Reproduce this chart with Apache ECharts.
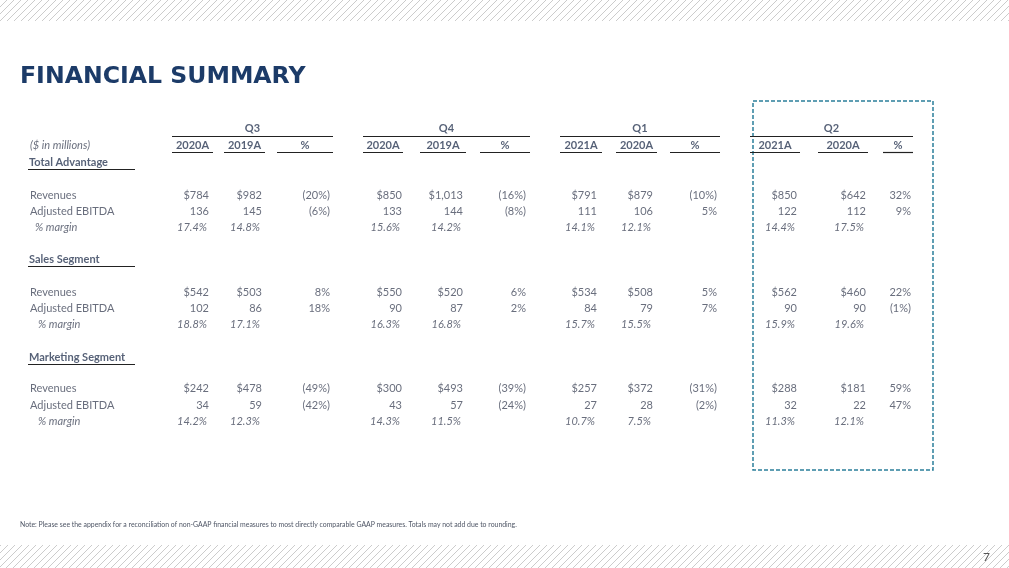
<!DOCTYPE html>
<html lang="en">
<head>
	<meta charset="UTF-8">
	<title>Financial Summary</title>
	<style>
		html, body { margin: 0; padding: 0; background: #fff; }
		#box { width: 1009px; height: 568px; }
	</style>
</head>
<body>
	<div id="box"></div>
	<script src="https://cdn.jsdelivr.net/npm/echarts@6/dist/echarts.min.js"></script>
	<script>
		// table content
		var quarters = ['Q3', 'Q4', 'Q1', 'Q2'];
		var colHeads = [['2020A', '2019A', '%'], ['2020A', '2019A', '%'], ['2021A', '2020A', '%'], ['2021A', '2020A', '%']];
		var sections = ['Total Advantage', 'Sales Segment', 'Marketing Segment'];
		var rowNames = ['Revenues', 'Adjusted EBITDA', '% margin'];

		var totalRevCur = [784, 850, 791, 850];
		var totalRevPrior = [982, 1013, 879, 642];
		var totalRevPct = [-20, -16, -10, 32];
		var totalEbitdaCur = [136, 133, 111, 122];
		var totalEbitdaPrior = [145, 144, 106, 112];
		var totalEbitdaPct = [-6, -8, 5, 9];
		var totalMarginCur = [17.4, 15.6, 14.1, 14.4];
		var totalMarginPrior = [14.8, 14.2, 12.1, 17.5];

		var salesRevCur = [542, 550, 534, 562];
		var salesRevPrior = [503, 520, 508, 460];
		var salesRevPct = [8, 6, 5, 22];
		var salesEbitdaCur = [102, 90, 84, 90];
		var salesEbitdaPrior = [86, 87, 79, 90];
		var salesEbitdaPct = [18, 2, 7, -1];
		var salesMarginCur = [18.8, 16.3, 15.7, 15.9];
		var salesMarginPrior = [17.1, 16.8, 15.5, 19.6];

		var mktRevCur = [242, 300, 257, 288];
		var mktRevPrior = [478, 493, 372, 181];
		var mktRevPct = [-49, -39, -31, 59];
		var mktEbitdaCur = [34, 43, 27, 32];
		var mktEbitdaPrior = [59, 57, 28, 22];
		var mktEbitdaPct = [-42, -24, -2, 47];
		var mktMarginCur = [14.2, 14.3, 10.7, 11.3];
		var mktMarginPrior = [12.3, 11.5, 7.5, 12.1];

		// layout (pixel units on hidden axes)
		var colRight = [[209, 262, 330], [402, 463, 526], [597, 653, 717], [797, 866, 911]];
		var colSpan = [[[172, 213], [224, 265], [277, 333]], [[363, 403], [420, 466], [480, 530]],
			[[560, 602], [616, 657], [670, 720]], [[750, 800], [818, 868], [883, 913]]];
		var sectionY = [162, 259, 357];
		var rowY = [[195, 211, 227], [292, 308, 324], [388, 405, 421]];

		var FONT = 'Lato';
		var TXT = '#434a5c';
		var HEAD = '#2c3a55';

		function money(v) {
			return '$' + v.toLocaleString('en-US');
		}
		function pct(v) {
			return v < 0 ? '(' + (-v) + '%)' : v + '%';
		}

		var blocks = [
			[totalRevCur, totalRevPrior, totalRevPct, totalEbitdaCur, totalEbitdaPrior, totalEbitdaPct, totalMarginCur, totalMarginPrior],
			[salesRevCur, salesRevPrior, salesRevPct, salesEbitdaCur, salesEbitdaPrior, salesEbitdaPct, salesMarginCur, salesMarginPrior],
			[mktRevCur, mktRevPrior, mktRevPct, mktEbitdaCur, mktEbitdaPrior, mktEbitdaPct, mktMarginCur, mktMarginPrior]
		];

		var cells = [];
		function cell(x, y, text, pos, style) {
			var lab = {
				show: true, formatter: text, position: pos, distance: 0,
				fontFamily: FONT, fontSize: 11, color: TXT
			};
			for (var k in style) lab[k] = style[k];
			cells.push({ value: [x, y], label: lab });
		}

		// headers
		quarters.forEach(function (q, i) {
			var s = colSpan[i];
			cell((s[0][0] + s[2][1]) / 2, 128, q, 'inside', { fontWeight: 'bold', color: HEAD });
			colHeads[i].forEach(function (h, j) {
				cell((s[j][0] + s[j][1]) / 2, 145, h, 'inside', { fontWeight: 'bold', color: HEAD });
			});
		});
		cell(30, 145, '($ in millions)', 'right', { fontStyle: 'italic' });

		// body
		sections.forEach(function (name, b) {
			cell(29, sectionY[b], name, 'right', { fontWeight: 'bold', color: HEAD });
			rowNames.forEach(function (r, k) {
				cell(k === 2 ? (b === 0 ? 35 : 38) : 30, rowY[b][k], r, 'right', k === 2 ? { fontStyle: 'italic' } : {});
			});
			var d = blocks[b];
			for (var q = 0; q < 4; q++) {
				var cr = colRight[q];
				cell(cr[0], rowY[b][0], money(d[0][q]), 'left');
				cell(cr[1], rowY[b][0], money(d[1][q]), 'left');
				cell(cr[2], rowY[b][0], pct(d[2][q]), 'left');
				cell(cr[0], rowY[b][1], String(d[3][q]), 'left');
				cell(cr[1], rowY[b][1], String(d[4][q]), 'left');
				cell(cr[2], rowY[b][1], pct(d[5][q]), 'left');
				cell(cr[0] - 2, rowY[b][2], d[6][q].toFixed(1) + '%', 'left', { fontStyle: 'italic' });
				cell(cr[1] - 2, rowY[b][2], d[7][q].toFixed(1) + '%', 'left', { fontStyle: 'italic' });
			}
		});

		// rule lines
		var rules = [];
		colSpan.forEach(function (s) {
			rules.push({ coords: [[s[0][0], 136], [s[2][1], 136]] });
			s.forEach(function (p) {
				rules.push({ coords: [[p[0], 152], [p[1], 152]] });
			});
		});
		sectionY.forEach(function (y) {
			rules.push({ coords: [[28, y + 7], [135, y + 7]] });
		});

		function hatch() {
			var c = document.createElement('canvas');
			c.width = 7; c.height = 7;
			var g = c.getContext('2d');
			g.strokeStyle = '#cccccc';
			g.lineWidth = 1;
			g.beginPath();
			g.moveTo(-1, 8); g.lineTo(8, -1);
			g.moveTo(-1, 1); g.lineTo(1, -1);
			g.moveTo(6, 8); g.lineTo(8, 6);
			g.stroke();
			return c;
		}
		var pat = { image: hatch(), repeat: 'repeat' };

		var myChart = echarts.init(document.getElementById('box'));

		var option = {
			animation: false,
			grid: { left: 0, right: 0, top: 0, bottom: 0 },
			xAxis: { type: 'value', min: 0, max: 1009, show: false },
			yAxis: { type: 'value', min: 0, max: 568, inverse: true, show: false },
			graphic: [
				{ type: 'rect', shape: { x: 0, y: 0, width: 1009, height: 21 }, style: { fill: pat }, silent: true },
				{ type: 'rect', shape: { x: 0, y: 545, width: 1009, height: 23 }, style: { fill: pat }, silent: true },
				{ type: 'text', left: 20, top: 65, style: {
					text: 'FINANCIAL SUMMARY', fill: '#1c3b68',
					font: 'bold 23.6px "DejaVu Sans"'
				} },
				{ type: 'rect', shape: { x: 753, y: 101, width: 180, height: 369 },
					style: { fill: null, stroke: '#2b7f9b', lineWidth: 1.5, lineDash: [4, 2] }, silent: true },
				{ type: 'text', left: 20, top: 521, style: {
					text: 'Note: Please see the appendix for a reconciliation of non-GAAP financial measures to most directly comparable GAAP measures. Totals may not add due to rounding.',
					fill: '#4f5666', font: '6.9px Lato'
				} },
				{ type: 'text', left: 983, top: 551, style: { text: '7', fill: '#555', font: '12px Lato' } }
			],
			series: [
				{
					type: 'lines',
					coordinateSystem: 'cartesian2d',
					silent: true,
					lineStyle: { color: '#222', width: 1.2, opacity: 1 },
					data: rules
				},
				{
					type: 'scatter',
					symbolSize: 0,
					silent: true,
					data: cells
				}
			]
		};

		myChart.setOption(option);
	</script>
</body>
</html>
